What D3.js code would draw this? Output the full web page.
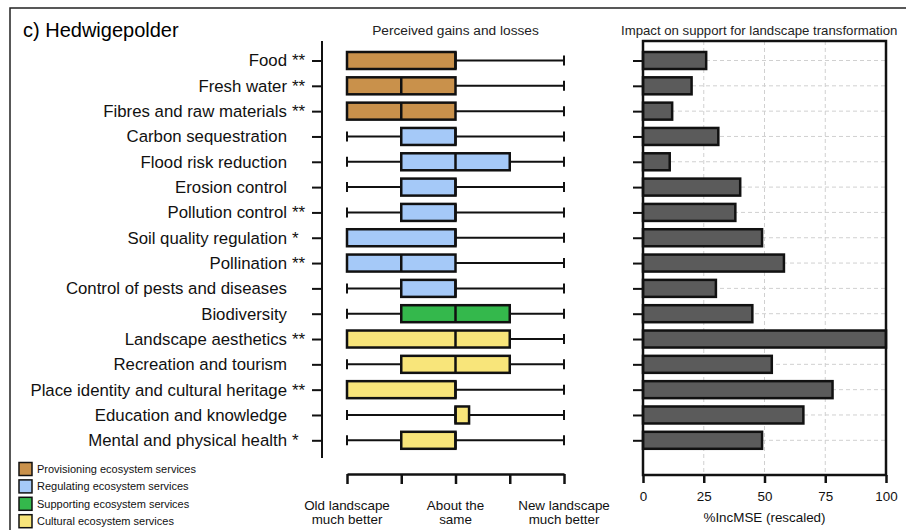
<!DOCTYPE html>
<html>
<head>
<meta charset="utf-8">
<script src="https://cdn.jsdelivr.net/npm/d3@7"></script>
<style>
  html, body { margin: 0; padding: 0; background: #fff; }
  svg { display: block; font-family: "Liberation Sans", Arial, sans-serif; }
</style>
</head>
<body>
<svg id="svg" width="906" height="530"></svg>
<script>
// ecosystem services (rows, top to bottom)
var services = [
    'Food', 'Fresh water', 'Fibres and raw materials', 'Carbon sequestration',
    'Flood risk reduction', 'Erosion control', 'Pollution control',
    'Soil quality regulation', 'Pollination', 'Control of pests and diseases',
    'Biodiversity', 'Landscape aesthetics', 'Recreation and tourism',
    'Place identity and cultural heritage', 'Education and knowledge',
    'Mental and physical health'
];
var stars = ['**', '**', '**', '', '', '', '**', '*', '**', '', '', '**', '', '**', '', '*'];
var groups = ['prov', 'prov', 'prov', 'reg', 'reg', 'reg', 'reg', 'reg', 'reg', 'reg',
              'sup', 'cult', 'cult', 'cult', 'cult', 'cult'];

// box plot values (1 = old landscape much better ... 5 = new landscape much better)
var whiskerLow  = [1, 1, 1, 1, 1, 1, 1, 1, 1, 1, 1, 1, 1, 1, 1, 1];
var q1          = [1, 1, 1, 2, 2, 2, 2, 1, 1, 2, 2, 1, 2, 1, 3, 2];
var median      = [3, 2, 2, 3, 3, 3, 3, 3, 2, 3, 3, 3, 3, 3, 3, 3];
var q3          = [3, 3, 3, 3, 4, 3, 3, 3, 3, 3, 4, 4, 4, 3, 3.25, 3];
var whiskerHigh = [5, 5, 5, 5, 5, 5, 5, 5, 5, 5, 5, 5, 5, 5, 5, 5];

// %IncMSE (rescaled)
var incMSE = [26, 20, 12, 31, 11, 40, 38, 49, 58, 30, 45, 100, 53, 78, 66, 49];

var groupKeys = ['prov', 'reg', 'sup', 'cult'];
var groupNames = ['Provisioning ecosystem services', 'Regulating ecosystem services',
                  'Supporting ecosystem services', 'Cultural ecosystem services'];
var groupColors = ['#c9914b', '#a5c9f8', '#34b84c', '#f8e57a'];

var scaleTicks = [1, 2, 3, 4, 5];
var scaleLabels = [[1, 'Old landscape', 'much better'], [3, 'About the', 'same'], [5, 'New landscape', 'much better']];
var barTicks = [0, 25, 50, 75, 100];

(function () {
    'use strict';

    var svg = d3.select('#svg');
    var color = d3.scaleOrdinal().domain(groupKeys).range(groupColors);

    var rows = services.map(function (s, i) {
        return {
            name: s, star: stars[i], group: groups[i],
            lo: whiskerLow[i], q1: q1[i], med: median[i], q3: q3[i], hi: whiskerHigh[i],
            mse: incMSE[i]
        };
    });

    // outer frame
    svg.append('rect')
        .attr('x', 10).attr('y', 8).attr('width', 1000).attr('height', 600)
        .attr('fill', 'none').attr('stroke', '#222').attr('stroke-width', 1.5);

    svg.append('text')
        .attr('x', 23).attr('y', 37)
        .attr('font-size', 20)
        .text('c) Hedwigepolder');

    var y = d3.scalePoint().domain(services).range([60.5, 440.3]);
    var x = d3.scaleLinear().domain([1, 5]).range([347, 564]);
    var xb = d3.scaleLinear().domain([0, 100]).range([643, 886]);
    var bh = 17;

    // ---- labels + left axis
    var labels = svg.append('g').attr('font-size', 16.8).attr('fill', '#111');
    labels.selectAll('text.name')
        .data(rows).enter().append('text')
        .attr('class', 'name')
        .attr('x', 287).attr('y', function (d) { return y(d.name); })
        .attr('dy', '0.35em').attr('text-anchor', 'end')
        .text(function (d) { return d.name; });
    labels.selectAll('text.star')
        .data(rows).enter().append('text')
        .attr('class', 'star')
        .attr('x', 292).attr('y', function (d) { return y(d.name); })
        .attr('dy', '0.35em').attr('font-size', 17)
        .text(function (d) { return d.star; });

    var yAxis = svg.append('g')
        .attr('transform', 'translate(322,0)')
        .call(d3.axisLeft(y).tickSize(10).tickFormat(''));
    yAxis.select('.domain').remove();
    yAxis.selectAll('line').attr('stroke', '#111').attr('stroke-width', 2);
    svg.append('line')
        .attr('x1', 322).attr('x2', 322).attr('y1', 41).attr('y2', 458)
        .attr('stroke', '#111').attr('stroke-width', 2);

    // ---- box plot panel
    svg.append('text')
        .attr('x', x(3)).attr('y', 35).attr('text-anchor', 'middle')
        .attr('font-size', 13.7).attr('fill', '#222')
        .text('Perceived gains and losses');

    var box = svg.append('g').selectAll('g')
        .data(rows).enter().append('g')
        .attr('transform', function (d) { return 'translate(0,' + y(d.name) + ')'; });

    box.append('line')
        .attr('x1', function (d) { return x(d.lo); })
        .attr('x2', function (d) { return x(d.hi); })
        .attr('stroke', '#111').attr('stroke-width', 2);
    box.append('line')
        .attr('x1', function (d) { return x(d.lo); })
        .attr('x2', function (d) { return x(d.lo); })
        .attr('y1', -5).attr('y2', 5)
        .attr('stroke', '#111').attr('stroke-width', 2);
    box.append('line')
        .attr('x1', function (d) { return x(d.hi); })
        .attr('x2', function (d) { return x(d.hi); })
        .attr('y1', -5).attr('y2', 5)
        .attr('stroke', '#111').attr('stroke-width', 2);
    box.append('rect')
        .attr('x', function (d) { return x(d.q1); })
        .attr('y', -bh / 2)
        .attr('width', function (d) { return x(d.q3) - x(d.q1); })
        .attr('height', bh)
        .attr('fill', function (d) { return color(d.group); })
        .attr('stroke', '#111').attr('stroke-width', 2.5);
    box.append('line')
        .attr('x1', function (d) { return x(d.med); })
        .attr('x2', function (d) { return x(d.med); })
        .attr('y1', -bh / 2).attr('y2', bh / 2)
        .attr('stroke', '#111').attr('stroke-width', 2.5);

    var xAxis = svg.append('g')
        .attr('transform', 'translate(0,474)')
        .call(d3.axisBottom(x).tickValues(scaleTicks).tickSize(10).tickSizeOuter(0).tickFormat(''));
    xAxis.selectAll('path, line').attr('stroke', '#111').attr('stroke-width', 2.5);

    var sl = svg.append('g').attr('font-size', 13.4).attr('fill', '#111').attr('text-anchor', 'middle');
    scaleLabels.forEach(function (l) {
        var t = sl.append('text').attr('x', x(l[0])).attr('y', 510);
        t.append('tspan').attr('x', x(l[0])).text(l[1]);
        t.append('tspan').attr('x', x(l[0])).attr('dy', 13.5).text(l[2]);
    });

    // ---- bar panel
    svg.append('text')
        .attr('x', 621).attr('y', 35)
        .attr('font-size', 13.2).attr('fill', '#222')
        .text('Impact on support for landscape transformation');

    var grid = svg.append('g')
        .attr('stroke', '#d0d0d0').attr('stroke-width', 1).attr('stroke-dasharray', '4,3');
    grid.selectAll('line.v')
        .data(barTicks.slice(1, 4)).enter().append('line')
        .attr('x1', xb).attr('x2', xb).attr('y1', 41).attr('y2', 475);
    grid.selectAll('line.h')
        .data(services).enter().append('line')
        .attr('x1', 643).attr('x2', 886)
        .attr('y1', y).attr('y2', y);

    svg.append('g').selectAll('rect')
        .data(rows).enter().append('rect')
        .attr('x', xb(0))
        .attr('y', function (d) { return y(d.name) - bh / 2; })
        .attr('width', function (d) { return xb(d.mse) - xb(0); })
        .attr('height', bh)
        .attr('fill', '#5b5b5b')
        .attr('stroke', '#111').attr('stroke-width', 2.5);

    svg.append('rect')
        .attr('x', 643).attr('y', 41).attr('width', 243).attr('height', 434)
        .attr('fill', 'none').attr('stroke', '#111').attr('stroke-width', 2.5);

    var byAxis = svg.append('g')
        .attr('transform', 'translate(643,0)')
        .call(d3.axisLeft(y).tickSize(10).tickFormat(''));
    byAxis.select('.domain').remove();
    byAxis.selectAll('line').attr('stroke', '#111').attr('stroke-width', 2);

    var bxAxis = svg.append('g')
        .attr('transform', 'translate(0,475)')
        .call(d3.axisBottom(xb).tickValues(barTicks).tickSize(8).tickSizeOuter(0).tickPadding(8));
    bxAxis.select('.domain').remove();
    bxAxis.selectAll('line').attr('stroke', '#111').attr('stroke-width', 2.5);
    bxAxis.selectAll('text')
        .attr('font-size', 13.4).attr('fill', '#111')
        .attr('font-family', '"Liberation Sans", Arial, sans-serif');

    svg.append('text')
        .attr('x', xb(50)).attr('y', 522).attr('text-anchor', 'middle')
        .attr('font-size', 13.4).attr('fill', '#111')
        .text('%IncMSE (rescaled)');

    // ---- legend
    var leg = svg.append('g').selectAll('g')
        .data(groupKeys).enter().append('g')
        .attr('transform', function (d, i) { return 'translate(19,' + (462.5 + i * 17.4) + ')'; });
    leg.append('rect')
        .attr('width', 13).attr('height', 13)
        .attr('fill', function (d) { return color(d); })
        .attr('stroke', '#111').attr('stroke-width', 1.5);
    leg.append('text')
        .attr('x', 18).attr('y', 6.5).attr('dy', '0.35em')
        .attr('font-size', 11).attr('fill', '#111')
        .text(function (d, i) { return groupNames[i]; });
})();
</script>
</body>
</html>
